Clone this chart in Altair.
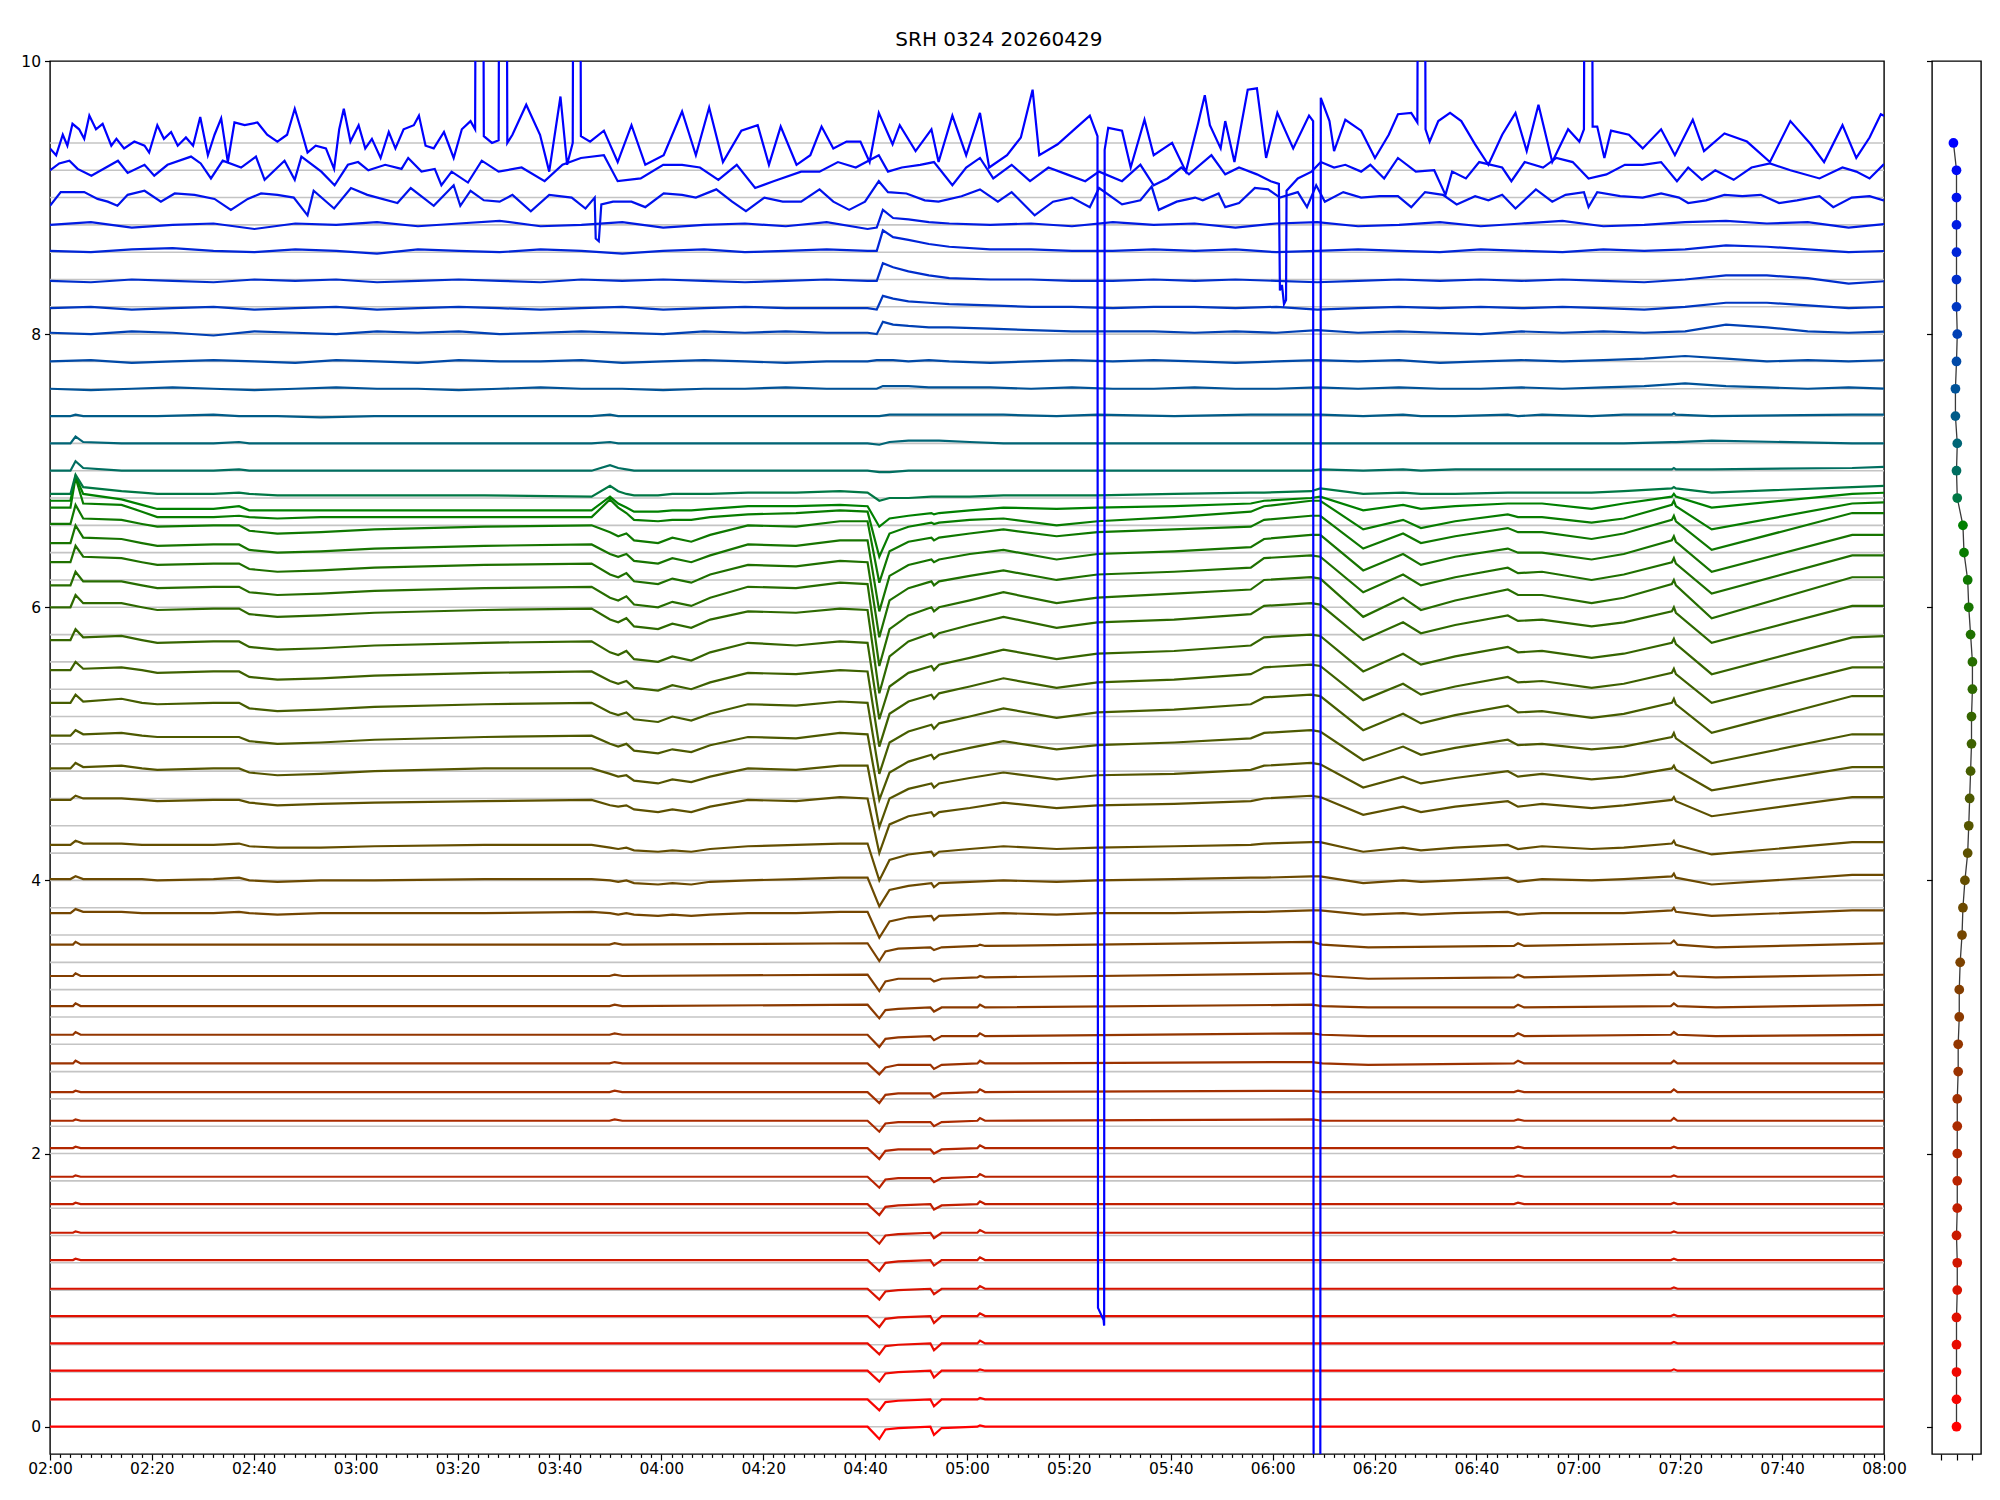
import math
import altair as alt
import pandas as pd

TITLE = "SRH 0324 20260429"

# time axis: minutes after 02:00 (0 .. 360 = 08:00)
X_DOMAIN = [0, 360]
Y_DOMAIN = [-0.2, 10]
TIME_CAL = 1.003  # calibration of the minute readings

BASELINES = [0.0, 0.2, 0.4, 0.6, 0.8, 1.0, 1.2, 1.4, 1.6, 1.8, 2.0, 2.2, 2.4, 2.6, 2.8, 3.0,
             3.2, 3.4, 3.6, 3.8, 4.0, 4.2, 4.4, 4.6, 4.8, 5.0, 5.2, 5.4, 5.6, 5.8, 6.0, 6.2,
             6.4, 6.6, 6.8, 7.0, 7.2, 7.4, 7.6, 7.8, 8.0, 8.2, 8.4, 8.6, 8.8, 9.0, 9.2, 9.4]

# ---- three noisy top channels: (minute, value) ----
P94 = [(0, 9.36), (1.2, 9.31), (2.5, 9.46), (3.4, 9.38), (4.4, 9.54), (5.7, 9.50), (6.7, 9.43),
       (7.7, 9.60), (9.0, 9.50), (10.3, 9.54), (12.0, 9.38), (13.0, 9.43), (14.5, 9.36), (16.5, 9.41),
       (18.5, 9.38), (19.4, 9.33), (21.0, 9.53), (22.3, 9.43), (23.7, 9.48), (25.0, 9.38), (26.6, 9.44),
       (28.0, 9.38), (29.4, 9.59), (30.9, 9.31), (32.2, 9.46), (33.5, 9.58), (34.8, 9.26), (36.1, 9.55),
       (38.1, 9.53), (40.6, 9.55), (42.5, 9.46), (44.5, 9.41), (46.4, 9.46), (47.9, 9.65), (49.1, 9.50),
       (50.4, 9.33), (52.0, 9.38), (54.0, 9.36), (55.6, 9.21), (56.6, 9.50), (57.5, 9.65), (58.8, 9.41),
       (60.4, 9.53), (61.7, 9.36), (63.0, 9.43), (64.7, 9.29), (66.3, 9.48), (67.6, 9.36), (69.2, 9.50),
       (71.2, 9.53), (72.2, 9.60), (73.5, 9.38), (75.1, 9.36), (77.1, 9.48), (79.0, 9.29), (80.6, 9.50),
       (82.3, 9.56), (83.2, 9.50), (83.3, 10.8), (84.8, 10.8), (84.9, 9.45), (86.5, 9.40), (87.8, 9.42),
       (87.9, 10.8), (89.4, 10.8), (89.5, 9.40), (90.5, 9.46), (93.2, 9.68), (95.9, 9.46), (97.7, 9.19),
       (99.9, 9.74), (101.2, 9.24), (102.3, 9.40), (102.4, 10.8), (103.8, 10.8), (103.9, 9.45),
       (105.7, 9.41), (108.4, 9.49), (111.1, 9.26), (113.8, 9.53), (116.5, 9.24), (120.1, 9.31),
       (123.7, 9.63), (126.4, 9.31), (129.0, 9.66), (131.7, 9.26), (135.3, 9.49), (138.5, 9.53),
       (140.7, 9.24), (143.0, 9.52), (146.1, 9.24), (148.8, 9.31), (151.0, 9.52), (153.3, 9.36),
       (155.9, 9.41), (158.6, 9.41), (160.4, 9.26), (162.2, 9.62), (164.9, 9.39), (166.3, 9.53),
       (169.4, 9.34), (172.5, 9.50), (173.9, 9.26), (176.6, 9.60), (179.3, 9.31), (182.0, 9.62),
       (183.8, 9.22), (187.3, 9.31), (190.0, 9.44), (192.3, 9.79), (193.6, 9.31), (197.2, 9.39),
       (200.8, 9.51), (203.5, 9.60), (205.0, 9.45), (205.1, 0.87), (206.2, 0.78), (206.3, 0.74),
       (206.4, 9.35), (207.1, 9.51), (209.8, 9.49), (211.5, 9.22), (214.2, 9.57), (216.0, 9.31),
       (219.6, 9.40), (222.3, 9.19), (224.6, 9.53), (226.0, 9.75), (227.0, 9.53), (229.1, 9.36),
       (230.0, 9.56), (231.8, 9.26), (234.4, 9.79), (236.2, 9.80), (238.0, 9.29), (240.2, 9.62),
       (243.3, 9.36), (246.4, 9.60), (247.2, 9.56), (247.3, -1.0), (248.6, -1.0), (248.7, 9.73),
       (250.4, 9.56), (251.3, 9.34), (253.5, 9.57), (256.6, 9.49), (259.3, 9.29), (262.0, 9.46),
       (263.8, 9.61), (266.4, 9.62), (267.6, 9.55), (267.7, 10.8), (269.1, 10.8), (269.2, 9.50),
       (270.0, 9.41), (271.7, 9.56), (274.0, 9.62), (276.2, 9.56), (278.9, 9.39), (281.5, 9.24),
       (284.2, 9.46), (286.8, 9.62), (289.0, 9.34), (291.3, 9.68), (294.0, 9.26), (297.1, 9.50),
       (299.3, 9.41), (300.2, 9.50), (300.3, 10.8), (301.8, 10.8), (301.9, 9.52), (302.8, 9.52),
       (304.2, 9.29), (305.5, 9.49), (309.0, 9.46), (311.7, 9.36), (315.3, 9.50), (318.0, 9.31),
       (321.5, 9.57), (323.7, 9.34), (327.7, 9.47), (332.1, 9.41), (336.6, 9.26), (340.6, 9.56),
       (344.6, 9.39), (347.2, 9.26), (350.8, 9.53), (353.5, 9.29), (356.1, 9.44), (358.3, 9.61),
       (360.0, 9.58)]

P92 = [(0, 9.20), (1.8, 9.25), (3.8, 9.27), (5.4, 9.21), (8.1, 9.16), (10, 9.20), (13.3, 9.27),
       (15.2, 9.18), (18.5, 9.24), (20.4, 9.16), (23, 9.24), (27.6, 9.30), (29.5, 9.25), (31.5, 9.14),
       (33.8, 9.27), (37.4, 9.22), (40.3, 9.30), (42, 9.13), (45.9, 9.27), (47.9, 9.13), (49.2, 9.30),
       (53.1, 9.19), (55.7, 9.09), (58.3, 9.24), (60.3, 9.26), (62.3, 9.20), (65.6, 9.24), (68.8, 9.21),
       (70.1, 9.29), (72.7, 9.19), (75.3, 9.21), (76.6, 9.09), (78.6, 9.19), (81.8, 9.11), (84.5, 9.27),
       (87.8, 9.19), (92.3, 9.22), (96.8, 9.12), (100.3, 9.24), (103.9, 9.29), (108.4, 9.31),
       (111.1, 9.12), (115.6, 9.14), (120, 9.24), (123.7, 9.24), (127.2, 9.22), (130.8, 9.13),
       (134.4, 9.24), (138, 9.07), (141.6, 9.12), (147, 9.19), (150.6, 9.19), (154.2, 9.26),
       (157.7, 9.22), (162.2, 9.31), (164, 9.19), (166.7, 9.22), (170.3, 9.24), (173, 9.26),
       (176.6, 9.09), (179.3, 9.22), (182, 9.29), (184.6, 9.14), (188.2, 9.24), (191.8, 9.12),
       (195.4, 9.22), (199, 9.17), (202.6, 9.12), (205.3, 9.19), (209.8, 9.12), (213.4, 9.24),
       (216, 9.09), (218.7, 9.14), (221.4, 9.22), (222.9, 9.17), (227.3, 9.31), (230, 9.17),
       (232.7, 9.22), (236.2, 9.17), (238.9, 9.12), (240.5, 9.10), (240.7, 8.32), (241.1, 8.36),
       (241.5, 8.22), (241.9, 8.25), (242.0, 9.05), (244.2, 9.14), (246.9, 9.19), (248.7, 9.26),
       (251.3, 9.22), (253.5, 9.24), (256.6, 9.19), (258.4, 9.24), (261.1, 9.14), (263.8, 9.29),
       (267.3, 9.19), (270.9, 9.20), (273.1, 9.02), (274.4, 9.19), (277.1, 9.14), (279.7, 9.26),
       (284.2, 9.22), (286, 9.12), (288.6, 9.26), (292.2, 9.22), (294.8, 9.29), (298, 9.26),
       (301.1, 9.14), (304.6, 9.17), (308.2, 9.24), (311.7, 9.24), (315.3, 9.26), (318.4, 9.12),
       (320.6, 9.22), (323.3, 9.13), (325.9, 9.20), (329.5, 9.13), (333, 9.22), (336.6, 9.25),
       (340.6, 9.20), (346.3, 9.14), (350.8, 9.22), (353.5, 9.19), (356.1, 9.14), (358.8, 9.24),
       (360, 9.26)]

P90 = [(0, 8.94), (2.1, 9.04), (6.7, 9.04), (9.3, 8.99), (11.3, 8.97), (13.2, 8.94), (15.2, 9.02),
       (18.5, 9.05), (21.7, 8.97), (24.4, 9.03), (28.3, 9.02), (32.2, 8.99), (35.4, 8.91), (38.7, 8.99),
       (41.3, 9.03), (44.5, 9.02), (47.7, 9.00), (50.4, 8.87), (51.6, 9.05), (55.6, 8.92), (58.9, 9.07),
       (62.1, 9.02), (68, 8.96), (70.6, 9.07), (75.1, 8.94), (79, 9.09), (80.3, 8.94), (82.3, 9.05),
       (84.9, 8.98), (88, 8.97), (90.5, 9.02), (94.1, 8.90), (97.7, 9.02), (102.1, 9.00), (104.8, 8.92),
       (106.6, 9.00), (106.8, 8.70), (107.4, 8.68), (107.9, 8.95), (110.2, 8.97), (113.8, 8.97),
       (116.5, 8.93), (120.1, 9.03), (123.7, 9.02), (126.4, 9.00), (130.4, 9.06), (133.5, 8.97),
       (136.2, 8.90), (139.8, 9.00), (143.4, 8.97), (147, 8.97), (150.6, 9.06), (153.3, 8.97),
       (156.4, 8.91), (159.5, 8.97), (162.2, 9.12), (164, 9.04), (167.6, 9.03), (171.2, 8.98),
       (173.9, 8.97), (178.4, 9.01), (182, 9.06), (185.5, 8.97), (188.2, 9.04), (192.7, 8.87),
       (196.3, 8.97), (200, 9.00), (203.5, 8.93), (205.3, 9.07), (209.8, 8.95), (213.4, 8.98),
       (215.6, 9.08), (217, 8.91), (220.5, 8.97), (224.1, 9.00), (225.6, 8.98), (228.7, 9.03),
       (230, 8.93), (232.7, 8.96), (235.8, 9.07), (238.4, 9.06), (240.7, 9.00), (244.2, 9.04),
       (246, 8.93), (247.8, 9.09), (249.5, 8.97), (253.1, 9.04), (256.6, 9.00), (260.2, 9.01),
       (263.8, 9.01), (266.4, 8.93), (269.1, 9.04), (272.6, 9.02), (275.3, 8.95), (278.9, 9.01),
       (281.5, 8.98), (284.2, 9.02), (286.8, 8.92), (290.8, 9.06), (294, 8.97), (296.6, 9.02),
       (300.2, 9.04), (301.1, 8.93), (302.8, 9.04), (307.3, 9.01), (311.7, 9.00), (315.3, 9.03),
       (318.8, 9.00), (320.6, 8.96), (324.1, 8.98), (327.7, 9.02), (331.2, 9.01), (334.8, 9.02),
       (338.4, 8.96), (341.9, 8.98), (346.3, 9.01), (349, 8.93), (352.6, 9.00), (356.1, 9.01),
       (358.8, 8.98), (360, 8.99)]

# ---- upper blue channels: level + deviation (hundredths) on grid BT ----
BT = [0, 8, 16, 24, 32, 40, 48, 56, 64, 72, 80, 88, 96, 104, 112, 120, 128, 136, 144, 152,
      160, 161.8, 163, 165, 168, 172, 176, 184, 192, 200, 208, 216, 224, 232, 240, 248, 256, 264,
      272, 280, 288, 296, 304, 312, 320, 328, 336, 344, 352, 360]
BLUE_LEVEL = {8.8: 8.80, 8.6: 8.61, 8.4: 8.39, 8.2: 8.19, 8.0: 8.01, 7.8: 7.80, 7.6: 7.60}
BLUE_DEV = {
    8.8: [0, 2, -2, 0, 1, -3, 1, 0, 2, -1, 1, 3, -1, 0, 2, -2, 0, 1, -1, 2,
          -3, -2, 11, 5, 4, 2, 1, 0, 1, -1, 2, 0, 1, -2, 1, 2, -1, 0, 2, -1,
          1, 3, -1, 0, 2, 3, 1, 2, -2, 1],
    8.6: [0, -1, 1, 2, 0, -1, 1, 0, -2, 1, 0, -1, 1, 0, -2, 0, 1, -1, 0, 1,
          0, 0, 15, 10, 8, 5, 3, 1, 1, 0, 0, 1, 0, 1, -1, 0, 1, 0, -1, 1,
          0, -1, 1, 0, 1, 4, 3, 1, -1, 0],
    8.4: [0, -1, 1, 0, -1, 1, 0, 1, -1, 0, 1, 0, -1, 1, 0, 1, 0, -1, 0, 1,
          0, 0, 13, 10, 7, 4, 2, 1, 1, 0, 0, 1, 0, 1, 0, -1, 0, 1, 0, 1,
          0, 1, 0, -1, 1, 4, 4, 2, -2, 0],
    8.2: [0, 1, -1, 0, 1, -1, 0, 1, -1, 0, 1, 0, -1, 0, 1, -1, 0, 1, 0, 0,
          0, -1, 9, 7, 5, 4, 3, 2, 1, 1, 0, 1, 1, 0, 1, -1, 0, 1, 0, 1,
          0, 1, 0, -1, 1, 4, 4, 2, 0, 1],
    8.0: [0, -1, 1, 0, -2, 1, 0, -1, 1, 0, 1, -1, 0, 1, 0, -1, 1, 0, 1, 0,
          0, -1, 8, 6, 5, 4, 4, 3, 2, 1, 1, 1, 0, 1, 0, 2, 0, 1, 0, -1,
          1, 0, 1, 0, 1, 6, 4, 1, 0, 1],
    7.8: [0, 1, -1, 0, 1, 0, -1, 1, 0, -1, 1, 0, 0, 1, -1, 0, 1, 0, -1, 0,
          0, 1, 1, 1, 0, 1, 0, -1, 0, 1, 0, 1, 0, -1, 0, 1, 0, 1, -1, 0,
          1, 0, 1, 2, 4, 2, 0, 1, 0, 1],
    7.6: [0, -1, 0, 1, 0, -1, 0, 1, 0, 0, -1, 0, 1, 0, 0, -1, 0, 0, 1, 0,
          0, 0, 2, 2, 2, 1, 1, 1, 0, 1, 0, 0, 1, 0, 0, 1, 0, 1, 0, 0,
          1, 0, 1, 2, 4, 2, 1, 0, 1, 0],
}

# ---- middle channels: level + deviation (hundredths) on grid KT ----
KT = [0, 4, 5, 6.5, 14, 18, 21, 32, 37, 39, 44.5, 53, 63.5, 85, 106, 109.6, 111.2, 112.8, 114.3,
      119, 121.8, 125.5, 129.2, 136.6, 146, 154.6, 160, 162.3, 164.3, 168, 172.5, 173, 174, 180,
      186.6, 197, 205, 220, 235, 237.6, 246.8, 248.6, 257, 264.8, 268.3, 275, 285.3, 287.3, 292,
      301.7, 308, 317.4, 317.8, 318.2, 325.2, 352.7, 360]
MID_LEVEL = {7.4: 7.40, 7.2: 7.20, 7.0: 7.00, 6.8: 6.82, 6.6: 6.71, 6.4: 6.66, 6.2: 6.57,
             6.0: 6.43, 5.8: 6.29, 5.6: 6.12, 5.4: 5.96, 5.2: 5.72, 5.0: 5.50, 4.8: 5.27,
             4.6: 5.03, 4.4: 4.80, 4.2: 4.57, 4.0: 4.25, 3.8: 4.00, 3.6: 3.76}
MID_DEV = {
    7.4: [0, 0, 1, 0, 0, 0, 0, 1, 0, 0, 0, -1, 0, 0, 0, 1, 0, 0, 0, 0, 0, 0, 0, 0, 0, 0, 0, 0, 1, 1,
          1, 1, 1, 1, 1, 0, 1, 0, 1, 1, 1, 1, 0, 1, 0, 0, 1, 0, 1, 0, 1, 1, 2, 1, 0, 1, 1],
    7.2: [0, 0, 5, 1, 0, 0, 0, 0, 1, 0, 0, 0, 0, 0, 0, 1, 0, 0, 0, 0, 0, 0, 0, 0, 0, 0, 0, -1, 1, 2,
          2, 2, 2, 1, 0, 0, 0, 0, 0, 0, 0, 0, 0, 0, 0, 0, 0, 0, 0, 0, 0, 1, 1, 1, 2, 0, 0],
    7.0: [0, 0, 7, 2, 0, 0, 0, 0, 1, 0, 0, 0, 0, 0, 0, 4, 2, 1, 0, 0, 0, 0, 0, 0, 0, 0, 0, -1, -1, 0,
          0, 0, 0, 0, 0, 0, 0, 0, 0, 0, 0, 1, 0, 1, 0, 1, 1, 1, 1, 1, 1, 1, 2, 1, 1, 2, 3],
    6.8: [1, 1, 15, 6, 3, 2, 1, 1, 2, 1, 0, 0, 0, 0, -1, 7, 3, 1, 0, 0, 1, 1, 1, 2, 2, 3, 2, -4, -2, -2,
          -1, -1, -1, -1, 0, 0, 0, 1, 2, 2, 3, 5, 1, 2, 1, 1, 2, 2, 2, 2, 3, 5, 6, 5, 2, 6, 7],
    6.6: [7, 7, 25, 12, 8, 4, 1, 1, 3, 0, 0, 0, 0, 0, 0, 10, 5, 2, -1, -1, 0, 0, 1, 3, 3, 4, 3, -12, -6, -4,
          -2, -3, -2, 0, 2, 1, 2, 3, 5, 7, 9, 10, 0, 4, 1, 3, 5, 5, 5, 1, 5, 10, 12, 10, 2, 12, 13],
    6.4: [7, 7, 29, 10, 9, 4, 0, 0, 1, 0, -1, 0, 0, 0, 0, 13, 7, 3, -2, -3, -2, -2, 0, 2, 3, 5, 4, -29, -12, -7,
          -4, -5, -4, -2, -1, -6, -3, 0, 4, 8, 12, 12, -9, -2, -8, -3, 2, 0, 0, -4, -1, 9, 12, 8, -9, 10, 11],
    6.2: [4, 4, 18, 8, 7, 4, 2, 3, 3, -1, -3, -2, 0, 2, 3, -2, -5, -3, -8, -10, -6, -9, -4, 3, 2, 6, 6, -39, -16, -9,
          -6, -8, -6, -3, 0, -5, -2, 0, 2, 7, 10, 10, -14, -3, -10, -5, 1, -2, -2, -7, -3, 7, 10, 6, -15, 12, 12],
    6.0: [4, 4, 17, 8, 7, 4, 2, 3, 3, -1, -3, -2, 0, 2, 3, -4, -6, -4, -9, -11, -7, -10, -5, 3, 2, 6, 6, -46, -20, -12,
          -8, -10, -8, -4, -1, -8, -4, -2, 1, 7, 10, 10, -16, -4, -12, -6, 0, -3, -3, -8, -4, 6, 9, 5, -17, 10, 10],
    5.8: [4, 4, 16, 8, 7, 4, 2, 3, 3, -1, -3, -2, 0, 2, 3, -5, -7, -4, -10, -12, -8, -11, -5, 2, 1, 5, 4, -51, -24, -15,
          -10, -13, -10, -6, -2, -9, -5, -3, 0, 7, 9, 8, -18, -5, -13, -7, 0, -4, -3, -9, -5, 4, 7, 3, -19, 9, 9],
    5.6: [4, 4, 14, 7, 7, 4, 2, 3, 3, -1, -3, -2, 0, 2, 3, -5, -7, -4, -10, -12, -8, -11, -5, 3, 2, 6, 5, -55, -28, -18,
          -12, -15, -12, -7, -1, -9, -5, -2, 1, 8, 10, 9, -19, -5, -14, -7, 1, -3, -3, -9, -5, 5, 8, 4, -20, 10, 10],
    5.4: [4, 4, 13, 7, 7, 4, 2, 3, 3, -1, -3, -2, 0, 2, 3, -5, -7, -4, -10, -12, -8, -11, -5, 1, 0, 3, 2, -59, -32, -21,
          -15, -18, -15, -9, -3, -11, -7, -5, -1, 5, 7, 6, -20, -7, -15, -9, -2, -6, -5, -10, -7, 1, 4, 0, -22, 5, 5],
    5.2: [4, 4, 12, 6, 7, 4, 2, 3, 3, -1, -3, -2, 0, 2, 3, -5, -7, -4, -10, -12, -8, -11, -5, 2, 0, 3, 2, -54, -30, -20,
          -15, -18, -14, -9, -3, -10, -6, -4, 0, 6, 8, 7, -19, -6, -14, -8, -1, -5, -4, -9, -6, 2, 5, 1, -21, 6, 7],
    5.0: [4, 4, 10, 5, 6, 4, 2, 3, 3, -1, -3, -2, 0, 2, 3, -4, -6, -4, -9, -11, -7, -10, -5, 2, 1, 4, 3, -52, -28, -19,
          -14, -17, -13, -8, -2, -9, -5, -3, 1, 6, 8, 7, -18, -6, -14, -8, -1, -5, -4, -9, -6, 2, 5, 1, -20, 6, 6],
    4.8: [3, 3, 9, 4, 6, 3, 2, 3, 3, -1, -3, -2, 0, 2, 3, -4, -6, -4, -9, -11, -7, -10, -5, 2, 1, 4, 3, -49, -26, -18,
          -13, -16, -12, -7, -1, -8, -4, -2, 2, 7, 9, 8, -17, -5, -12, -6, 1, -4, -3, -8, -5, 3, 6, 2, -19, 8, 8],
    4.6: [3, 3, 7, 4, 5, 3, 2, 2, 2, -1, -3, -2, 0, 2, 3, -3, -5, -3, -8, -10, -7, -9, -4, 2, 1, 5, 4, -44, -24, -16,
          -11, -14, -11, -6, -1, -7, -4, -2, 1, 5, 7, 6, -15, -5, -11, -6, 0, -4, -3, -7, -5, 2, 5, 1, -17, 4, 4],
    4.4: [2, 2, 6, 3, 4, 2, 1, 2, 2, -1, -3, -2, 0, 2, 2, -2, -4, -3, -7, -9, -6, -8, -4, 2, 1, 4, 4, -41, -20, -13,
          -9, -12, -9, -5, -1, -6, -3, -2, 1, 4, 6, 5, -12, -4, -9, -5, 0, -4, -2, -6, -4, 2, 4, 1, -14, 3, 3],
    4.2: [2, 2, 5, 3, 3, 2, 1, 2, 2, 0, -2, -1, 0, 1, 2, -2, -3, -2, -5, -7, -5, -7, -3, 2, 1, 4, 3, -37, -16, -10,
          -7, -10, -7, -4, 0, -4, -2, -1, 1, 3, 5, 4, -9, -3, -7, -3, 1, -3, -1, -4, -2, 2, 4, 1, -10, 4, 4],
    4.0: [1, 1, 4, 2, 2, 1, 1, 1, 2, 0, -1, -1, 0, 1, 1, -1, -2, -1, -3, -4, -3, -4, -2, 0, 1, 2, 2, -25, -10, -6,
          -4, -7, -4, -2, 0, -2, -1, 0, 1, 2, 3, 3, -4, -1, -3, -1, 1, -2, 0, -2, -1, 2, 4, 1, -6, 3, 3],
    3.8: [1, 1, 3, 1, 1, 1, 0, 1, 2, 0, -1, 0, 0, 1, 1, 0, -1, 0, -2, -3, -2, -3, -1, 0, 1, 2, 2, -19, -7, -4,
          -2, -5, -2, -1, 0, -1, 0, 1, 2, 2, 3, 3, -2, 0, -1, 0, 2, -1, 1, 0, 1, 3, 5, 2, -3, 4, 4],
    3.6: [0, 0, 3, 1, 1, 0, 0, 0, 1, 0, -1, 0, 0, 0, 1, 0, -1, 0, -1, -2, -1, -2, -1, 0, 0, 1, 1, -18, -6, -3,
          -2, -5, -2, -1, 0, -1, 0, 0, 1, 1, 2, 2, -1, 0, -1, 0, 1, -1, 0, 0, 0, 2, 4, 1, -2, 2, 2],
}

# ---- lower channels: level + deviation (hundredths) on grid LT ----
LT = [0, 4.5, 5, 6, 100, 109.5, 110.5, 112, 160, 162.3, 163.5, 166, 172.3, 173, 174.5, 181.5, 182,
      183, 247, 249, 258, 286.5, 287.3, 288.5, 317.2, 317.8, 318.5, 326, 360]
LOW_LEVEL = {3.4: 3.53, 3.2: 3.30, 3.0: 3.08, 2.8: 2.87, 2.6: 2.66, 2.4: 2.45, 2.2: 2.24, 2.0: 2.04,
             1.8: 1.83, 1.6: 1.63, 1.4: 1.42, 1.2: 1.22, 1.0: 1.01, 0.8: 0.81, 0.6: 0.61, 0.4: 0.41,
             0.2: 0.20, 0.0: 0.00}
LOW_DEV = {
    3.4: [0, 0, 2, 0, 0, 0, 1, 0, 1, -12, -5, -3, -2, -4, -2, -1, 0, -1, 2, 0, -2, -1, 1, -1, 1, 3, 0, -2, 1],
    3.2: [0, 0, 2, 0, 0, 0, 1, 0, 1, -11, -4, -2, -2, -4, -2, -1, 0, -1, 2, 0, -2, -1, 1, -1, 1, 3, 0, -1, 1],
    3.0: [0, 0, 2, 0, 0, 0, 1, 0, 1, -9, -3, -2, -1, -4, -1, -1, 1, -1, 1, 0, -1, -1, 1, -1, 0, 2, 0, -1, 1],
    2.8: [0, 0, 2, 0, 0, 0, 1, 0, 0, -9, -3, -2, -1, -4, -1, -1, 1, -1, 1, 0, -1, -1, 1, -1, 0, 2, 0, -1, 0],
    2.6: [0, 0, 2, 0, 0, 0, 1, 0, 0, -8, -3, -1, -1, -4, -1, 0, 2, 0, 1, 0, -1, 0, 2, 0, 0, 2, 0, 0, 0],
    2.4: [0, 0, 1, 0, 0, 0, 1, 0, 0, -8, -2, -1, -1, -4, -1, 0, 2, 0, 1, 0, 0, 0, 1, 0, 0, 2, 0, 0, 0],
    2.2: [0, 0, 1, 0, 0, 0, 1, 0, 0, -8, -2, -1, -1, -4, -1, 0, 2, 0, 1, 0, 0, 0, 1, 0, 0, 2, 0, 0, 0],
    2.0: [0, 0, 1, 0, 0, 0, 0, 0, 0, -8, -2, -1, -1, -4, -1, 0, 2, 0, 0, 0, 0, 0, 1, 0, 0, 1, 0, 0, 0],
    1.8: [0, 0, 1, 0, 0, 0, 0, 0, 0, -8, -2, -1, -1, -4, -1, 0, 2, 0, 0, 0, 0, 0, 1, 0, 0, 1, 0, 0, 0],
    1.6: [0, 0, 1, 0, 0, 0, 0, 0, 0, -8, -2, -1, 0, -4, -1, 0, 2, 0, 0, 0, 0, 0, 1, 0, 0, 1, 0, 0, 0],
    1.4: [0, 0, 1, 0, 0, 0, 0, 0, 0, -8, -2, -1, 0, -4, 0, 0, 2, 0, 0, 0, 0, 0, 0, 0, 0, 1, 0, 0, 0],
    1.2: [0, 0, 1, 0, 0, 0, 0, 0, 0, -8, -2, -1, 0, -4, 0, 0, 2, 0, 0, 0, 0, 0, 0, 0, 0, 1, 0, 0, 0],
    1.0: [0, 0, 0, 0, 0, 0, 0, 0, 0, -8, -2, -1, 0, -4, 0, 0, 2, 0, 0, 0, 0, 0, 0, 0, 0, 1, 0, 0, 0],
    0.8: [0, 0, 0, 0, 0, 0, 0, 0, 0, -8, -2, -1, 0, -5, 0, 0, 2, 0, 0, 0, 0, 0, 0, 0, 0, 1, 0, 0, 0],
    0.6: [0, 0, 0, 0, 0, 0, 0, 0, 0, -8, -2, -1, 0, -5, 0, 0, 2, 0, 0, 0, 0, 0, 0, 0, 0, 1, 0, 0, 0],
    0.4: [0, 0, 0, 0, 0, 0, 0, 0, 0, -8, -2, -1, 0, -5, 0, 0, 1, 0, 0, 0, 0, 0, 0, 0, 0, 1, 0, 0, 0],
    0.2: [0, 0, 0, 0, 0, 0, 0, 0, 0, -8, -2, -1, 0, -5, 0, 0, 1, 0, 0, 0, 0, 0, 0, 0, 0, 0, 0, 0, 0],
    0.0: [0, 0, 0, 0, 0, 0, 0, 0, 0, -9, -2, -1, 0, -6, -1, 0, 1, 0, 0, 0, 0, 0, 0, 0, 0, 0, 0, 0, 0],
}

# ---- right panel: per-channel marker x (top channel 9.4 first) ----
DOT_X = [-0.2, 0, 0, 0, 0, 0, 0, 0.05, 0, -0.07, -0.07, 0.05, 0, 0.05, 0.42, 0.49, 0.73, 0.8,
         0.92, 1.04, 1.04, 0.98, 0.98, 0.92, 0.86, 0.8, 0.73, 0.55, 0.42, 0.36, 0.24, 0.18, 0.18,
         0.11, 0.11, 0.05, 0.05, 0.05, 0.05, 0.05, 0, 0.05, 0.05, 0, 0, 0, 0, 0]


def label(b):
    return f"{b:.1f}"


def channel_color(i):
    # red (bottom) -> green -> blue (top)
    if i <= 33:
        t = i / 33
        r, g, b = 255 * (1 - t), 128 * t, 0
    else:
        t = (i - 33) / 14
        r, g, b = 0, 128 * (1 - t), 255 * math.sqrt(t)
    return "#{:02x}{:02x}{:02x}".format(int(round(r)), int(round(g)), int(round(b)))


LABELS = [label(b) for b in BASELINES]
COLORS = [channel_color(i) for i in range(len(BASELINES))]

rows = []
for base, dev in LOW_DEV.items():
    for t, d in zip(LT, dev):
        rows.append({"t": t * TIME_CAL, "v": LOW_LEVEL[base] + d / 100, "ch": label(base)})
for base, dev in MID_DEV.items():
    for t, d in zip(KT, dev):
        rows.append({"t": t * TIME_CAL, "v": MID_LEVEL[base] + d / 100, "ch": label(base)})
for base, dev in BLUE_DEV.items():
    for t, d in zip(BT, dev):
        rows.append({"t": t * TIME_CAL, "v": BLUE_LEVEL[base] + d / 100, "ch": label(base)})
for base, pts in ((9.0, P90), (9.2, P92), (9.4, P94)):
    for t, v in pts:
        rows.append({"t": t * TIME_CAL, "v": v, "ch": label(base)})
df = pd.DataFrame(rows)
df["k"] = df["ch"].map({l: i for i, l in enumerate(LABELS)})
df = df.sort_values(["k", "t"], kind="stable")

base_df = pd.DataFrame({"b": BASELINES})
dots_df = pd.DataFrame({"dx": DOT_X, "dy": BASELINES[::-1], "ch": LABELS[::-1]})

FONT = "DejaVu Sans"
LABEL_SIZE = 15.5
color_scale = alt.Scale(domain=LABELS, range=COLORS)
y_scale = alt.Scale(domain=Y_DOMAIN, nice=False, zero=False)

x_label_expr = ("datum.value % 20 === 0 ? "
                "((floor(datum.value / 60) + 2 < 10 ? '0' : '') + (floor(datum.value / 60) + 2) + ':' + "
                "(datum.value % 60 < 10 ? '0' : '') + (datum.value % 60)) : ''")

x_axis = alt.Axis(values=list(range(0, 361, 2)), labelExpr=x_label_expr, title=None, grid=False,
                  domain=False, labelOverlap=False, labelFlush=False, labelFontSize=LABEL_SIZE,
                  labelFont=FONT, labelColor="black", tickColor="black", tickWidth=1.2,
                  tickSize={"condition": {"test": "datum.value % 20 === 0", "value": 6}, "value": 3.4},
                  labelPadding=1)
y_axis = alt.Axis(values=[0, 2, 4, 6, 8, 10], format="d", title=None, grid=False, domain=False,
                  labelFontSize=LABEL_SIZE, labelFont=FONT, labelColor="black", tickColor="black",
                  tickWidth=1.2, tickSize=5.5, labelPadding=4)

grid = alt.Chart(base_df).mark_rule(color="#c4c4c4", strokeWidth=1.6).encode(
    y=alt.Y("b:Q", scale=y_scale, axis=y_axis)
)
lines = alt.Chart(df).mark_line(clip=True, strokeWidth=2.2).encode(
    x=alt.X("t:Q", scale=alt.Scale(domain=X_DOMAIN, nice=False, zero=False), axis=x_axis),
    y=alt.Y("v:Q", scale=y_scale, axis=y_axis),
    color=alt.Color("ch:N", scale=color_scale, legend=None),
)
main = alt.layer(grid, lines).properties(width=1834, height=1393)

px_axis = alt.Axis(values=[-1, 0, 1], labels=False, title=None, grid=False, domain=False,
                   tickColor="black", tickWidth=1.2, tickSize=6)
py_axis = alt.Axis(values=[0, 2, 4, 6, 8, 10], labels=False, title=None, grid=False, domain=False,
                   tickColor="black", tickWidth=1.2, tickSize=5.5)
px_scale = alt.Scale(domain=[-1.6, 1.6], nice=False, zero=False)
link = alt.Chart(dots_df).mark_line(color="#3a3a3a", strokeWidth=1.3).encode(
    x=alt.X("dx:Q", scale=px_scale, axis=px_axis),
    y=alt.Y("dy:Q", scale=y_scale, axis=py_axis),
    order=alt.Order("dy:Q"),
)
dots = alt.Chart(dots_df).mark_circle(size=95, opacity=1).encode(
    x=alt.X("dx:Q", scale=px_scale, axis=px_axis),
    y=alt.Y("dy:Q", scale=y_scale, axis=py_axis),
    color=alt.Color("ch:N", scale=color_scale, legend=None),
)
panel = alt.layer(link, dots).properties(width=49, height=1393)

chart = (
    alt.hconcat(main, panel, spacing=17)
    .resolve_scale(x="independent", y="independent")
    .properties(
        title=alt.Title(TITLE, fontSize=20, font=FONT, fontWeight="normal", color="black",
                        anchor="middle", offset=3, dx=-2),
        padding={"left": 12, "top": 22, "right": 0, "bottom": 0},
        background="white",
    )
    .configure(font=FONT)
    .configure_view(stroke="black", strokeWidth=1.4, strokeOpacity=1)
)

chart.save("out.html", embed_options={"renderer": "svg", "actions": False})
